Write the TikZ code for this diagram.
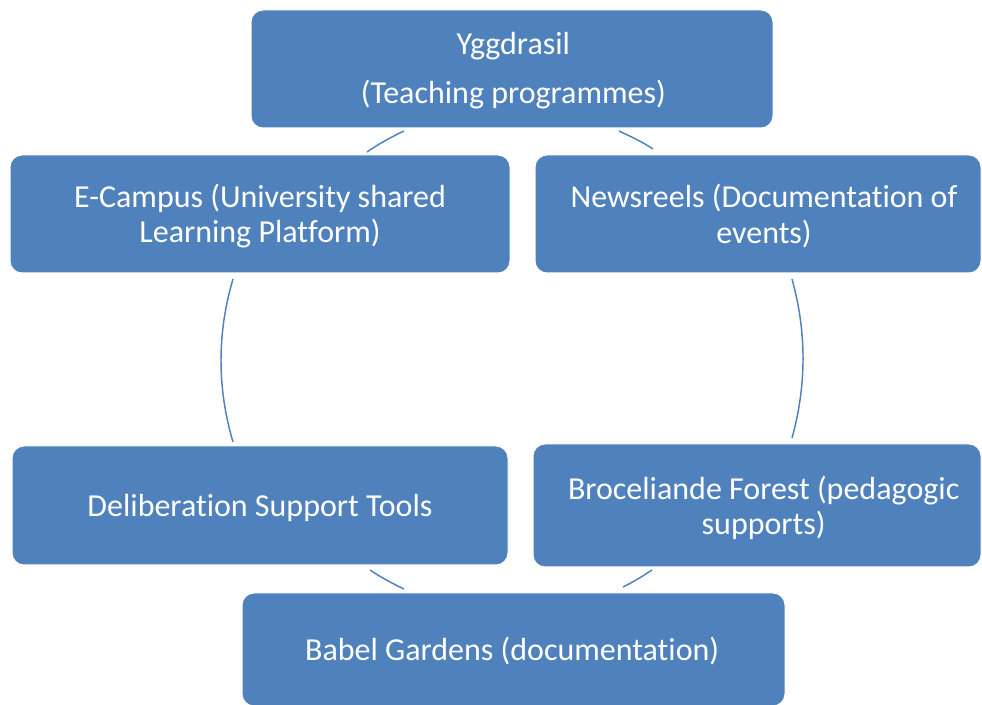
\documentclass[tikz,border=0pt]{standalone}
\usepackage{fontspec}
\setmainfont{Carlito}[Ligatures={NoCommon}]
\definecolor{boxblue}{HTML}{4F81BD}
\begin{document}
\begin{tikzpicture}[x=0.75pt,y=-0.75pt,
  cyclebox/.style={draw=white,line width=0.75pt,fill=boxblue,rounded corners=9pt,inner sep=0pt},
  boxtext/.style={text=white,align=center,inner sep=0pt,yshift=-1.5pt,font=\fontsize{24}{26.3}\selectfont},
  arcline/.style={draw=boxblue,line width=1.1pt}]
\useasboundingbox (0,0) rectangle (982,705);
\clip (0,0) rectangle (982,705);
% boxes
\node[cyclebox,minimum width=391.5pt,minimum height=88.5pt,
  label={[boxtext,xshift=1pt]center:{Yggdrasil\\[10.5pt](Teaching programmes)}}] (ygg) at (512,69) {};
\node[cyclebox,minimum width=375pt,minimum height=88.5pt,
  label={[boxtext]center:{E-Campus (University shared\\Learning Platform)}}] (ecampus) at (260,214) {};
\node[cyclebox,minimum width=334.5pt,minimum height=88.5pt,
  label={[boxtext,xshift=4.5pt]center:{Newsreels (Documentation of\\events)}}] (news) at (758,214) {};
\node[cyclebox,minimum width=372pt,minimum height=89.25pt,
  label={[boxtext]center:{Deliberation Support Tools}}] (delib) at (260,505.5) {};
\node[cyclebox,minimum width=336pt,minimum height=92.25pt,
  label={[boxtext,xshift=5pt]center:{Broceliande Forest (pedagogic\\supports)}}] (broc) at (757,505.5) {};
\node[cyclebox,minimum width=407.25pt,minimum height=84.75pt,
  label={[boxtext,xshift=-1pt]center:{Babel Gardens (documentation)}}] (babel) at (513.5,649.5) {};
% arcs of the cycle
\draw[arcline] (367,152) .. controls (378.5,144) and (391.3,137) .. (404,131);
\draw[arcline] (619,131) .. controls (630.6,136.4) and (642.4,141.9) .. (653,149);
\draw[arcline] (792,279) .. controls (806.7,332) and (806.7,385) .. (792,438);
\draw[arcline] (652,570) .. controls (642.7,576.2) and (633.1,582.1) .. (623,587);
\draw[arcline] (404,589) .. controls (392.2,583.4) and (380.8,577.3) .. (370,570);
\draw[arcline] (233,442) .. controls (217,388) and (217,333) .. (233,279);
\end{tikzpicture}
\end{document}
